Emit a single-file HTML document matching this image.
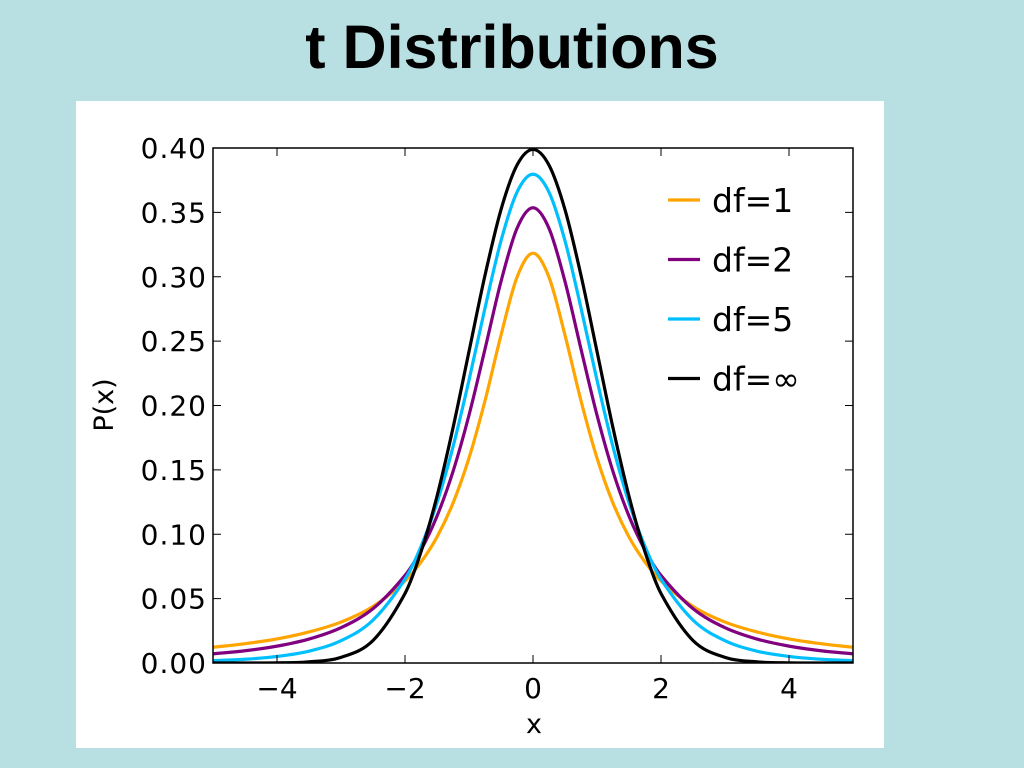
<!DOCTYPE html>
<html><head><meta charset="utf-8"><style>
body{margin:0;width:1024px;height:768px;background:#b8dfe2;overflow:hidden;font-family:"DejaVu Sans","Liberation Sans",sans-serif}
#title{position:absolute;left:0;width:1024px;top:12px;text-align:center;font:bold 61px "Liberation Sans",sans-serif;color:#000}
#panel{position:absolute;left:76px;top:101px;width:808px;height:647px;background:#fff}
svg{position:absolute;left:0;top:0}
</style></head><body>
<div id="title">t Distributions</div>
<div id="panel"></div>
<svg id="chart" width="1024" height="768"></svg>
<script>
const posX=[0,0.25,0.5,0.75,1,1.25,1.5,1.75,2,2.5,3,3.5,4,4.5,5];
const half1=[0.3183,0.2996,0.2546,0.2037,0.1592,0.1242,0.0979,0.0784,0.0637,0.0439,0.0318,0.0241,0.0187,0.0150,0.0122];
const half2=[0.3536,0.3376,0.2963,0.2438,0.1925,0.1487,0.1141,0.0878,0.0680,0.0422,0.0274,0.0186,0.0131,0.0095,0.0071];
const half5=[0.3796,0.3657,0.3279,0.2757,0.2197,0.1679,0.1245,0.0905,0.0651,0.0333,0.0173,0.0092,0.0051,0.0029,0.0018];
const halfInf=[0.3989,0.3867,0.3521,0.3011,0.2420,0.1826,0.1295,0.0863,0.0540,0.0175,0.0044,0.0009,0.0001,0.0000,0.0000];
const seriesNames=["df=1","df=2","df=5","df=\u221e"];
const seriesColors=["#ffa500","#800080","#00bfff","#000000"];
const xTicks=[-4,-2,0,2,4];
const xTickLabels=["\u22124","\u22122","0","2","4"];
const yTicks=[0,0.05,0.1,0.15,0.2,0.25,0.3,0.35,0.4];
const yTickLabels=["0.00","0.05","0.10","0.15","0.20","0.25","0.30","0.35","0.40"];
const L=213,R=853,T=148,B=663;
const sx=x=>L+(x+5)/10*(R-L);
const sy=y=>B-y/0.4*(B-T);
const xs=posX.slice(1).reverse().map(v=>-v).concat(posX);
const full=h=>h.slice(1).reverse().concat(h);
const series=[full(half1),full(half2),full(half5),full(halfInf)];
const svg=document.getElementById('chart');const NS='http://www.w3.org/2000/svg';
function mk(t,a,p){const e=document.createElementNS(NS,t);for(const k in a)e.setAttribute(k,a[k]);(p||svg).appendChild(e);return e;}
function path(pts){let d=`M${pts[0][0]},${pts[0][1]}`;for(let i=0;i<pts.length-1;i++){const p0=pts[Math.max(0,i-1)],p1=pts[i],p2=pts[i+1],p3=pts[Math.min(pts.length-1,i+2)];
const a=(p2[0]-p1[0]);const k0=(p2[1]-p0[1])/(p2[0]-p0[0]||1),k1=(p3[1]-p1[1])/(p3[0]-p1[0]||1);
d+=` C${p1[0]+a/3},${p1[1]+k0*a/3} ${p2[0]-a/3},${p2[1]-k1*a/3} ${p2[0]},${p2[1]}`;}return d;}
const clip=mk('clipPath',{id:'c'});mk('rect',{x:L,y:T-2,width:R-L,height:B-T+2},clip);
series.forEach((s,i)=>{const p=mk('path',{d:path(xs.map((x,j)=>[sx(x),sy(s[j])])),fill:'none',stroke:seriesColors[i],'stroke-width':3.2,'clip-path':'url(#c)'});

});
const fr=mk('rect',{x:L,y:T,width:R-L,height:B-T,fill:'none',stroke:'#000','stroke-width':1.5});


xTicks.forEach((v,i)=>{const x=sx(v);mk('line',{x1:x,x2:x,y1:B,y2:B-8,stroke:'#000'});mk('line',{x1:x,x2:x,y1:T,y2:T+8,stroke:'#000'});
const t=mk('text',{x:x,y:B+35,'text-anchor':'middle','font-size':28});t.textContent=xTickLabels[i];

});
yTicks.forEach((v,i)=>{const y=sy(v);mk('line',{x1:L,x2:L+8,y1:y,y2:y,stroke:'#000'});mk('line',{x1:R,x2:R-8,y1:y,y2:y,stroke:'#000'});
const t=mk('text',{x:L-6,y:y+10,'text-anchor':'end','font-size':28,'letter-spacing':1});t.textContent=yTickLabels[i];

});
const xl=mk('text',{x:534,y:733,'text-anchor':'middle','font-size':27});xl.textContent='x';


const yl=mk('text',{x:113,y:405,'text-anchor':'middle','font-size':27,transform:'rotate(-90 113 405)'});yl.textContent='P(x)';


seriesNames.forEach((n,i)=>{const y=200+i*59.5;const g=mk('g',{});


mk('line',{x1:668,x2:700,y1:y,y2:y,stroke:seriesColors[i],'stroke-width':3.2},g);
const t=mk('text',{x:712,y:y+12,'font-size':33},g);t.textContent=n;});
</script>
</body></html>
